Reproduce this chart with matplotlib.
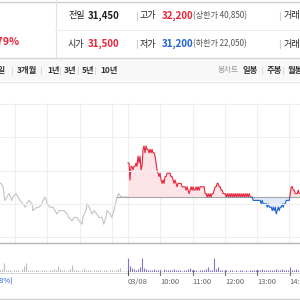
import numpy as np
import matplotlib
matplotlib.use("Agg")
import matplotlib.pyplot as plt
from matplotlib.lines import Line2D
from matplotlib.patches import Rectangle

plt.rcParams['font.family'] = ['Noto Sans CJK KR', 'DejaVu Sans']

# ---------------- data ----------------
prev_close = 31450

prev_times = ["11:32", "11:34", "11:38", "11:41", "11:45", "11:49", "11:54", "11:56",
              "12:02", "12:06", "12:09", "12:15", "12:19", "12:22", "12:26", "12:32",
              "12:33", "12:41", "12:45", "12:50", "12:52", "12:56", "13:00", "13:05",
              "13:11", "13:14", "13:18", "13:22", "13:27", "13:31", "13:37", "13:40",
              "13:46", "13:50", "13:55", "13:59", "14:05", "14:06", "14:12", "14:14",
              "14:18", "14:23", "14:27", "14:32", "14:36", "14:42", "14:45", "14:49",
              "14:51", "14:57", "15:00", "15:04", "15:08", "15:10", "15:13", "15:17",
              "15:30"]
prev_prices = [31650, 31650, 31600, 31400, 31450, 31500, 31400, 31450,
               31500, 31450, 31400, 31350, 31300, 31350, 31400, 31350,
               31250, 31300, 31300, 31350, 31400, 31450, 31350, 31300,
               31300, 31250, 31200, 31250, 31250, 31250, 31200, 31150,
               31100, 31150, 31150, 31100, 31050, 31150, 31250, 31350,
               31300, 31200, 31250, 31200, 31150, 31150, 31050, 31150,
               31250, 31200, 31150, 31250, 31400, 31450, 31500, 31450,
               31450]

today_prices = [31950, 31950, 31700, 31900, 31900, 31850, 31900, 31900, 31950, 31900,
                32050, 31950, 32050, 31850, 31900, 32150, 32200, 32100, 32200, 32150,
                32150, 32100, 32150, 32100, 32150, 32100, 32100, 32050, 31950, 31850,
                31800, 31750, 31800, 31700, 31650, 31700, 31650, 31750, 31750, 31800,
                31800, 31800, 31800, 31750, 31750, 31700, 31650, 31700, 31650, 31600,
                31650, 31650, 31650, 31650, 31600, 31600, 31600, 31600, 31550, 31600,
                31550, 31500, 31550, 31600, 31550, 31600, 31550, 31550, 31600, 31550,
                31600, 31550, 31600, 31600, 31600, 31600, 31600, 31500, 31500, 31450,
                31500, 31450, 31500, 31450, 31500, 31500, 31550, 31600, 31600, 31650,
                31650, 31600, 31600, 31550, 31550, 31500, 31500, 31500, 31450, 31500,
                31450, 31500, 31450, 31500, 31450, 31500, 31450, 31500, 31450, 31500,
                31450, 31500, 31450, 31500, 31450, 31500, 31450, 31500, 31450, 31500,
                31450, 31500, 31450, 31450, 31450, 31400, 31400, 31400, 31400, 31400,
                31400, 31400, 31400, 31350, 31400, 31350, 31350, 31350, 31350, 31300,
                31350, 31300, 31300, 31300, 31250, 31300, 31250, 31300, 31200, 31250,
                31300, 31250, 31300, 31300, 31350, 31300, 31350, 31350, 31400, 31400,
                31400, 31400, 31500, 31600, 31600, 31550, 31550, 31500, 31500, 31500,
                31550, 31500, 31500]
today_span = ("09:00", "14:20")

prev_vol = [3000, 4500, 14000, 3000, 2500, 3000, 2000, 3500, 2500, 3000, 2000, 4000,
            9000, 13000, 3000, 2500, 3000, 2000, 2500, 3000, 2000, 3500, 2500, 3000,
            2000, 2500, 3000, 4500, 3500, 9500, 4000, 2500, 3000, 2000, 2500, 4000,
            10000, 3500, 2500, 3000, 2000, 3500, 6500, 3000, 2500, 3000, 2000, 2500,
            3500, 2500, 3000, 2000, 2500, 3000, 2000, 2500, 3000, 2000, 3500, 4500,
            6000, 2000, 1500, 1500]
prev_vol_span = ("11:32", "15:26")
today_vol = [21000, 9000, 6000, 4500, 3000, 4000, 7500, 21000, 6000, 4500, 3000, 3000,
             2500, 4000, 3000, 2500, 3000, 2000, 4500, 2500, 3000, 2500, 3000, 5000,
             3500, 2500, 3000, 2000, 2500, 3000, 4500, 6000, 3000, 2500, 3000, 2000,
             2500, 3000, 2500, 4500, 7000, 3500, 3000, 21000, 4500, 7000, 3000, 2500,
             2000, 2500, 2000, 2500, 3000, 2000, 2500, 2000, 3000, 2500, 2000, 2500,
             2000, 3000, 2500, 3500, 3000, 2500, 3000, 4000, 3000, 2500, 3500, 3000,
             2500, 3000, 4500, 3000, 2500, 5000, 3000, 2500, 3500, 7000, 3500, 3000,
             4000, 3000, 2500]
today_vol_span = ("09:00", "14:20")

tick_labels = ["03/08", "10:00", "11:00", "12:00", "13:00", "14:00"]
prev_grid_hours = ["12:00", "13:00", "14:00", "15:00"]

# ---------------- helpers ----------------
def mins(s):
    h, m = s.split(":")
    return int(h) * 60 + int(m)

def prev_t(s):      # previous session, 15:30 aligned to today 09:00
    return mins(s) - mins("15:30")

def today_t(s):
    return mins(s) - mins("09:00")

W = H = 300.0
fig = plt.figure(figsize=(3, 3), dpi=100)
fig.patch.set_facecolor("white")

def fx(x):
    return x / W

def fy(y):
    return 1 - y / H

def T(x, y, s, **kw):
    kw.setdefault("va", "center")
    kw.setdefault("ha", "left")
    fig.text(fx(x), fy(y), s, **kw)

def hline(y, x0, x1, color, lw=1.0):
    fig.add_artist(Line2D([fx(x0), fx(x1)], [fy(y), fy(y)], color=color, lw=lw))

def vline(x, y0, y1, color, lw=1.0):
    fig.add_artist(Line2D([fx(x), fx(x)], [fy(y0), fy(y1)], color=color, lw=lw))

RED = "#e8243a"
BLUE = "#1f63d3"
DARK = "#222222"
GRAY = "#666666"

# ---------------- header ----------------
hline(1.5, 0, 300, "#cfcfcf", 1.0)
vline(55.5, 0, 58, "#e3e3e3", 0.8)
hline(29.5, 55, 300, "#ececec", 0.8)
hline(58, 0, 300, "#d6d6d6", 1.0)
fig.add_artist(Rectangle((0, fy(81)), 1, fy(58.5) - fy(81), transform=fig.transFigure,
                         facecolor="#f8f8f8", edgecolor="none", zorder=0))
hline(81.5, 0, 300, "#e6e6e6", 0.8)

T(20, 42, "+0.79%", ha="right", color=RED, fontsize=7.5, fontweight="bold")

T(68, 15.5, "전일", color=DARK, fontsize=6.5)
T(88, 15.5, "31,450", color=DARK, fontsize=7, fontweight="bold")
T(68, 44, "시가", color=DARK, fontsize=6.5)
T(88, 44, "31,500", color=RED, fontsize=7, fontweight="bold")
for yy in (15.5, 44):
    vline(137, yy - 4, yy + 4, "#cfcfcf", 0.8)
    vline(280, yy - 4, yy + 4, "#cfcfcf", 0.8)
T(140, 15.5, "고가", color=DARK, fontsize=6.5)
T(162, 15.5, "32,200", color=RED, fontsize=7, fontweight="bold")
T(193, 15.5, "(상한가 40,850)", color="#555555", fontsize=5.8)
T(140, 44, "저가", color=DARK, fontsize=6.5)
T(162, 44, "31,200", color=BLUE, fontsize=7, fontweight="bold")
T(193, 44, "(하한가 22,050)", color="#555555", fontsize=5.8)
T(284, 15.5, "거래량", color=DARK, fontsize=6.5)
T(284, 44, "거래대금", color=DARK, fontsize=6.5)

# tabs row
TY = 70
T(6, TY, "1주일", ha="right", color="#333333", fontsize=6, fontweight="bold")
for xs in (12, 41, 60, 78, 95):
    vline(xs, TY - 3.5, TY + 3.5, "#dddddd", 0.8)
T(17, TY, "3개월", color="#333333", fontsize=6, fontweight="bold")
T(47, TY, "1년", color="#333333", fontsize=6, fontweight="bold")
T(64, TY, "3년", color="#333333", fontsize=6, fontweight="bold")
T(82, TY, "5년", color="#333333", fontsize=6, fontweight="bold")
T(100, TY, "10년", color="#333333", fontsize=6, fontweight="bold")
T(218, TY, "봉차트", color="#9a9a9a", fontsize=5.5)
T(243, TY, "일봉", color="#333333", fontsize=6, fontweight="bold")
vline(262, TY - 3.5, TY + 3.5, "#dddddd", 0.8)
T(267, TY, "주봉", color="#333333", fontsize=6, fontweight="bold")
vline(283, TY - 3.5, TY + 3.5, "#dddddd", 0.8)
T(288, TY, "월봉", color="#333333", fontsize=6, fontweight="bold")

# ---------------- price chart ----------------
MIN_PER_PX = 60 / 32.3
t_left = -128 * MIN_PER_PX
t_right = (300 - 128) * MIN_PER_PX
WON_PER_PX = 14.7
top_px, bot_px, base_px = 85, 243, 197
p_top = prev_close + (base_px - top_px) * WON_PER_PX
p_bot = prev_close - (bot_px - base_px) * WON_PER_PX

ax = fig.add_axes([0, fy(bot_px), 1, (bot_px - top_px) / H])
ax.set_xlim(t_left, t_right)
ax.set_ylim(p_bot, p_top)
ax.axis("off")

grid_px = [104, 137, 171, 204, 237]
for gp in grid_px:
    hline(gp, 0, 300, "#efefef", 0.8)
vgrid_t = [prev_t(h) for h in prev_grid_hours] + [today_t(h) for h in
           ["09:00", "10:00", "11:00", "12:00", "13:00", "14:00"]]
for vt in vgrid_t:
    ax.axvline(vt, ymin=0, ymax=(bot_px - 104) / (bot_px - top_px), color="#efefef", lw=0.8, zorder=0)

pt = np.array([prev_t(s) for s in prev_times])
pp = np.array(prev_prices)
ax.plot(pt, pp, color="#c4c4c4", lw=0.8, zorder=2)
ax.plot([pt[-4], t_right], [prev_close, prev_close], color="#a8a8a8", lw=0.8, zorder=3)

tt = np.linspace(today_t(today_span[0]), today_t(today_span[1]), len(today_prices))
tp = np.array(today_prices)
ax.fill_between(tt, tp, prev_close, where=tp >= prev_close, interpolate=True,
                color="#fde4e7", lw=0, zorder=1)
ax.fill_between(tt, tp, prev_close, where=tp <= prev_close, interpolate=True,
                color="#e1eaf8", lw=0, zorder=1)
l_red, = ax.plot(tt, tp, color=RED, lw=0.8, zorder=4)
l_blue, = ax.plot(tt, tp, color=BLUE, lw=0.8, zorder=4)
l_red.set_clip_path(Rectangle((t_left, prev_close - 1), t_right - t_left, p_top - prev_close + 1,
                              transform=ax.transData))
l_blue.set_clip_path(Rectangle((t_left, p_bot), t_right - t_left, prev_close - 1 - p_bot,
                               transform=ax.transData))

hline(243, 0, 300, "#b5b5b5", 1.0)

# ---------------- volume ----------------
vax = fig.add_axes([0, fy(272), 1, (272 - 245) / H])
vax.set_xlim(t_left, t_right)
vax.set_ylim(0, 27 * 1500)
vax.axis("off")
pvt = np.linspace(prev_t(prev_vol_span[0]), prev_t(prev_vol_span[1]), len(prev_vol))
tvt = np.linspace(today_t(today_vol_span[0]), today_t(today_vol_span[1]), len(today_vol))
vax.vlines(pvt, 0, prev_vol, color="#bdbdbd", lw=0.8)
vax.vlines(tvt, 0, today_vol, color="#8573d2", lw=0.8)
hline(272.5, 0, 300, "#d8d8d8", 0.7)

tick_t = [today_t("09:00"), today_t("10:00"), today_t("11:00"), today_t("12:00"),
          today_t("13:00"), today_t("14:00")]
for k, (tk, lab) in enumerate(zip(tick_t, tick_labels)):
    xpx = 128 + tk / MIN_PER_PX
    vline(xpx, 270, 275, "#555555" if k == 0 else "#777777", 0.8)
    T(xpx, 282, lab, color=GRAY, fontsize=5.5)

T(13, 282, "(-0.48%)", ha="right", color=BLUE, fontsize=5.5)
hline(298.5, 0, 300, "#cfcfcf", 1.0)

fig.savefig("out.png", dpi=100)
